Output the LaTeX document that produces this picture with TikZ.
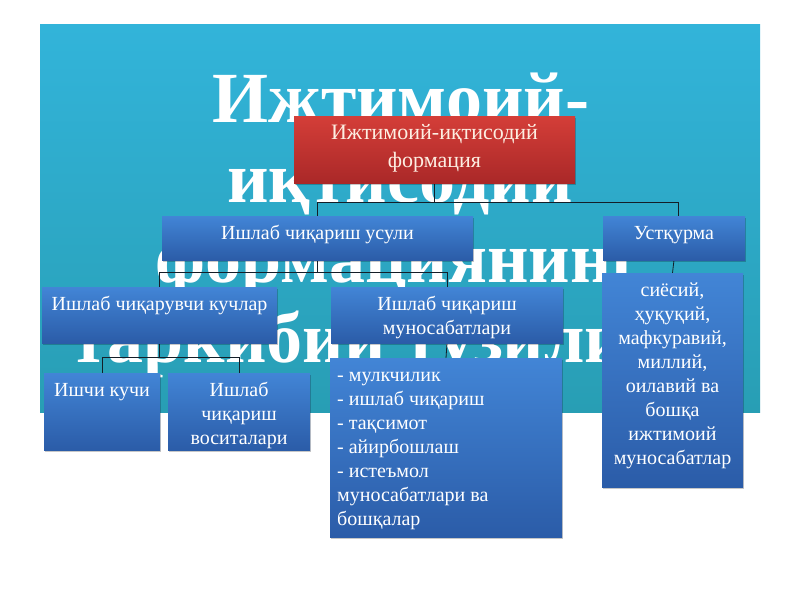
\documentclass[tikz,border=0pt]{standalone}
\usepackage{fontspec}
\setmainfont{Liberation Serif}
\usetikzlibrary{shadows}
\definecolor{bgtop}{RGB}{50,180,218}
\definecolor{bgbot}{RGB}{40,158,180}
\definecolor{bxtop}{RGB}{66,133,214}
\definecolor{bxbot}{RGB}{43,92,168}
\definecolor{rdtop}{RGB}{212,62,56}
\definecolor{rdbot}{RGB}{170,40,40}
\definecolor{cream}{RGB}{253,238,226}
\definecolor{conncol}{RGB}{20,30,40}
\begin{document}
\begin{tikzpicture}[x=1pt,y=-1pt,
  boxbase/.style={rectangle, inner sep=0pt, outer sep=0pt,
    drop shadow={shadow xshift=0.5pt, shadow yshift=-2pt, opacity=0.22, fill=black}},
  bluebox/.style={boxbase, top color=bxtop, bottom color=bxbot},
  redbox/.style={boxbase, top color=rdtop, bottom color=rdbot},
  boxtext/.style={inner sep=0pt, text=white, font=\fontsize{20}{24}\selectfont, align=center, anchor=north},
  redtext/.style={inner sep=0pt, text=cream, font=\fontsize{22}{28}\selectfont, align=center, anchor=north},
  titletext/.style={inner sep=0pt, text=white, font=\fontsize{72}{80}\selectfont\bfseries, anchor=base},
  conn/.style={draw=conncol, line width=0.8pt}
]
\useasboundingbox (0,0) rectangle (800,600);
\fill[white] (0,0) rectangle (800,600);
% background panel
\shade[top color=bgtop, bottom color=bgbot] (40,24) rectangle (760,412);
% title
\node[titletext] (t1) at (401,122) {Ижтимоий-};
\node[titletext] (t2) at (400,202) {иқтисодий};
\node[titletext] (t3) at (400,282) {формациянинг};
\node[titletext] (t4) at (400,362) {таркибий тузилиши};
% box positions (used as anchors for connectors)
\path
  (434.5,149.5) node[minimum width=281pt, minimum height=67pt, inner sep=0pt, outer sep=0pt] (red) {}
  (317.5,238) node[minimum width=311pt, minimum height=44pt, inner sep=0pt, outer sep=0pt] (usuli) {}
  (674,238) node[minimum width=142pt, minimum height=44pt, inner sep=0pt, outer sep=0pt] (ustq) {}
  (159.5,315) node[minimum width=235pt, minimum height=56pt, inner sep=0pt, outer sep=0pt] (kuch) {}
  (447,315) node[minimum width=232pt, minimum height=56pt, inner sep=0pt, outer sep=0pt] (munos) {}
  (102,411.5) node[minimum width=116pt, minimum height=77pt, inner sep=0pt, outer sep=0pt] (ishchi) {}
  (239,411.5) node[minimum width=142pt, minimum height=77pt, inner sep=0pt, outer sep=0pt] (vosita) {}
  (446,447.5) node[minimum width=232pt, minimum height=179pt, inner sep=0pt, outer sep=0pt] (list) {}
  (672.5,380) node[minimum width=141pt, minimum height=214pt, inner sep=0pt, outer sep=0pt] (right) {};
% connectors
\draw[conn] (red.south) -- ++(0,19) coordinate (bus1);
\draw[conn] (bus1) -| ([xshift=4pt]ustq.north);
\draw[conn] (bus1) -| (usuli.north);
\draw[conn] (usuli.south) -- ++(0,12) coordinate (bus2);
\draw[conn] (bus2) -| (kuch.north);
\draw[conn] (bus2) -| (munos.north);
\draw[conn] (kuch.south) -- ++(0,14) coordinate (bus3);
\draw[conn] (bus3) -| (ishchi.north);
\draw[conn] (bus3) -| (vosita.north);
\draw[conn] (munos.south) -- (list.north);
\draw[conn] (ustq.south) -- (right.north);
% visible boxes, over the connectors
\path
  (red.center) node[redbox, minimum width=281pt, minimum height=67pt] (redA) {}
  (usuli.center) node[bluebox, minimum width=311pt, minimum height=44pt] (usuliA) {}
  (ustq.center) node[bluebox, minimum width=142pt, minimum height=44pt] (ustqA) {}
  (kuch.center) node[bluebox, minimum width=235pt, minimum height=56pt] (kuchA) {}
  (munos.center) node[bluebox, minimum width=232pt, minimum height=56pt] (munosA) {}
  (ishchi.center) node[bluebox, minimum width=116pt, minimum height=77pt] (ishchiA) {}
  (vosita.center) node[bluebox, minimum width=142pt, minimum height=77pt] (vositaA) {}
  (list.center) node[bluebox, minimum width=232pt, minimum height=179pt] (listA) {}
  (right.center) node[bluebox, minimum width=141pt, minimum height=214pt] (rightA) {};
% texts
\node[redtext] (redT) at ([yshift=-4pt]red.north) {\strut Ижтимоий-иқтисодий\\формация};
\node[boxtext] (usuliT) at ([yshift=-6pt]usuli.north) {\strut Ишлаб чиқариш усули};
\node[boxtext] (ustqT) at ([yshift=-6pt]ustq.north) {\strut Устқурма};
\node[boxtext] (kuchT) at ([yshift=-6pt]kuch.north) {\strut Ишлаб чиқарувчи кучлар};
\node[boxtext] (munosT) at ([yshift=-6pt]munos.north) {\strut Ишлаб чиқариш\\муносабатлари};
\node[boxtext] (ishchiT) at ([yshift=-6pt]ishchi.north) {\strut Ишчи кучи};
\node[boxtext] (vositaT) at ([yshift=-6pt]vosita.north) {\strut Ишлаб\\чиқариш\\воситалари};
\node[boxtext, align=left, anchor=north west] (listT) at ([xshift=7pt,yshift=-6pt]list.north west)
  {\strut - мулкчилик\\- ишлаб чиқариш\\- тақсимот\\- айирбошлаш\\- истеъмол\\муносабатлари ва\\бошқалар};
\node[boxtext] (rightT) at ([yshift=-6pt]right.north)
  {\strut сиёсий,\\ҳуқуқий,\\мафкуравий,\\миллий,\\оилавий ва\\бошқа\\ижтимоий\\муносабатлар};
\end{tikzpicture}
\end{document}
